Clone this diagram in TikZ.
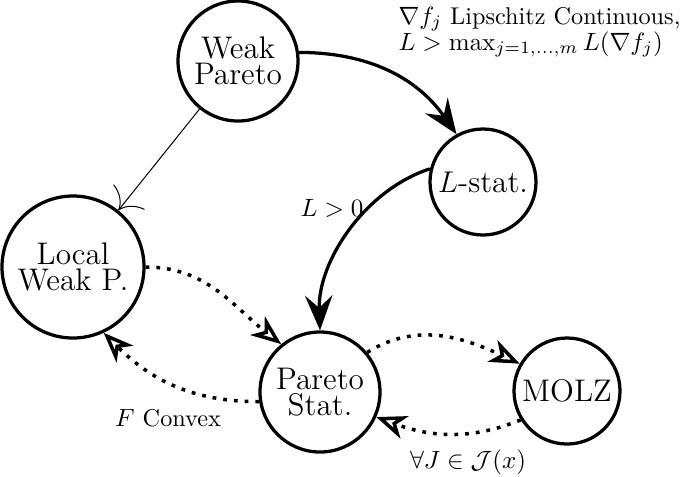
\documentclass[tikz,border=0pt]{standalone}
\usetikzlibrary{arrows.meta}
\begin{document}
\begin{tikzpicture}[x=0.4pt,y=0.4pt,
  state/.style={circle, draw, line width=1.3pt, inner sep=0pt, align=center, font=\fontsize{12.5}{10.4}\selectfont},
  solidarrow/.style={line width=1.3pt, -{Stealth[length=14pt,width=11pt,inset=5pt]}},
  dotarrow/.style={line width=1.4pt, dash pattern=on 1.5pt off 2.8pt, -{Stealth[open,length=12pt,width=9.5pt,inset=3.5pt]}},
  thinarrow/.style={line width=0.4pt, -{To[length=7pt,width=16pt]}},
  lbl/.style={font=\fontsize{9.7}{10.4}\selectfont, inner sep=0pt}]
\useasboundingbox (0,0) rectangle (685,-476);
\node[state, minimum size=48pt] (wp) at (238,-61) {Weak\\Pareto};
\node[state, minimum size=42.4pt] (ls) at (483,-182) {$L$-stat.};
\node[state, minimum size=56.8pt] (lwp) at (73,-267) {Local\\Weak P.};
\node[state, minimum size=48pt] (ps) at (320,-392) {Pareto\\Stat.};
\node[state, minimum size=42.4pt] (mz) at (567,-391) {MOLZ};
\draw[solidarrow] (wp.8) to[out=0,in=125] (ls.119);
\draw[solidarrow] (ls.166) to[out=198,in=92,looseness=0.9] (ps.90);
\draw[thinarrow] (wp) -- (lwp);
\draw[dotarrow] (lwp.0) to[out=0,in=142] (ps.129);
\draw[dotarrow] (ps.189) to[out=180,in=-45] (lwp.-65);
\draw[dotarrow] (ps.40) to[out=32,in=155] (mz.150);
\draw[dotarrow] (mz.212) to[out=202,in=-20] (ps.-24);
\node[lbl] (l1) at (332,-208) {$L>0$};
\node[lbl] (l2) at (168,-418) {$F$ Convex};
\node[lbl] (l3) at (468,-462) {$\forall J\in\mathcal{J}(x)$};
\node[lbl, anchor=west, align=left] (l4) at (398,-32) {$\nabla f_j$ Lipschitz Continuous,\\$L>\max_{j=1,\dots,m} L(\nabla f_j)$};
\end{tikzpicture}
\end{document}
